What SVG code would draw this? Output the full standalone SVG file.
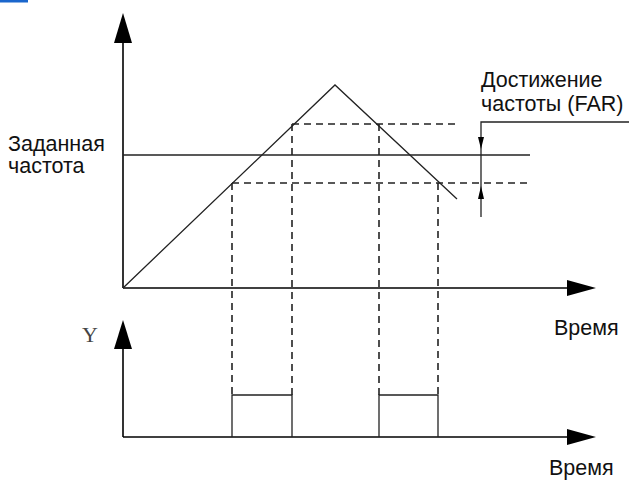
<svg xmlns="http://www.w3.org/2000/svg" width="629" height="481" viewBox="0 0 629 481">
<style>
.ax{stroke:#000;stroke-width:1.6;fill:none}
.ln{stroke:#222;stroke-width:1.3;fill:none}
.ds{stroke:#222;stroke-width:1.6;fill:none;stroke-dasharray:7 5}
.t{font-family:"Liberation Sans",Arial,sans-serif;font-size:21.5px;fill:#111}
.hd{fill:#000}
</style>
<rect x="0" y="0" width="28" height="2.5" fill="#1a66cc"/>
<g id="axes">
<line class="ax" x1="123" y1="288" x2="123" y2="40"/>
<path class="hd" d="M123,13 L114,43 L132,43 Z"/>
<line class="ax" x1="123" y1="288" x2="572" y2="288"/>
<path class="hd" d="M596,288 L567,280 L567,296 Z"/>
<line class="ax" x1="123" y1="437" x2="123" y2="345"/>
<path class="hd" d="M123,320 L114,349 L132,349 Z"/>
<line class="ax" x1="123" y1="437" x2="572" y2="437"/>
<path class="hd" d="M596,437 L567,429 L567,445 Z"/>
</g>
<g id="ramp">
<polyline class="ln" points="123,288 335,85 457,199"/>
</g>
<g id="setfreq">
<line class="ln" x1="123" y1="155" x2="530" y2="155"/>
</g>
<g id="dashes">
<line class="ds" x1="292" y1="124" x2="458" y2="124"/>
<line class="ds" x1="232" y1="183" x2="530" y2="183"/>
<line class="ds" x1="232" y1="183" x2="232" y2="395"/>
<line class="ds" x1="292" y1="124" x2="292" y2="395"/>
<line class="ds" x1="379" y1="124" x2="379" y2="395"/>
<line class="ds" x1="438" y1="183" x2="438" y2="395"/>
</g>
<g id="pulses">
<polyline class="ln" points="232,437 232,395 292,395 292,437"/>
<polyline class="ln" points="379,437 379,395 438,395 438,437"/>
</g>
<g id="far">
<polyline class="ln" points="629,122 481,122 481,217"/>
<path class="hd" d="M481,149 L478,137 L484,137 Z"/>
<path class="hd" d="M481,186 L478,199 L484,199 Z"/>
</g>
<g id="labels">
<text class="t" x="481" y="87">Достижение</text>
<text class="t" x="481" y="111">частоты (FAR)</text>
<text class="t" x="8" y="151">Заданная</text>
<text class="t" x="8" y="173">частота</text>
<text class="t" x="554" y="335">Время</text>
<text class="t" x="549" y="475">Время</text>
<text x="82" y="342" style="font-family:'Liberation Serif','Times New Roman',serif;font-size:22px;fill:#444">Y</text>
</g>
</svg>
